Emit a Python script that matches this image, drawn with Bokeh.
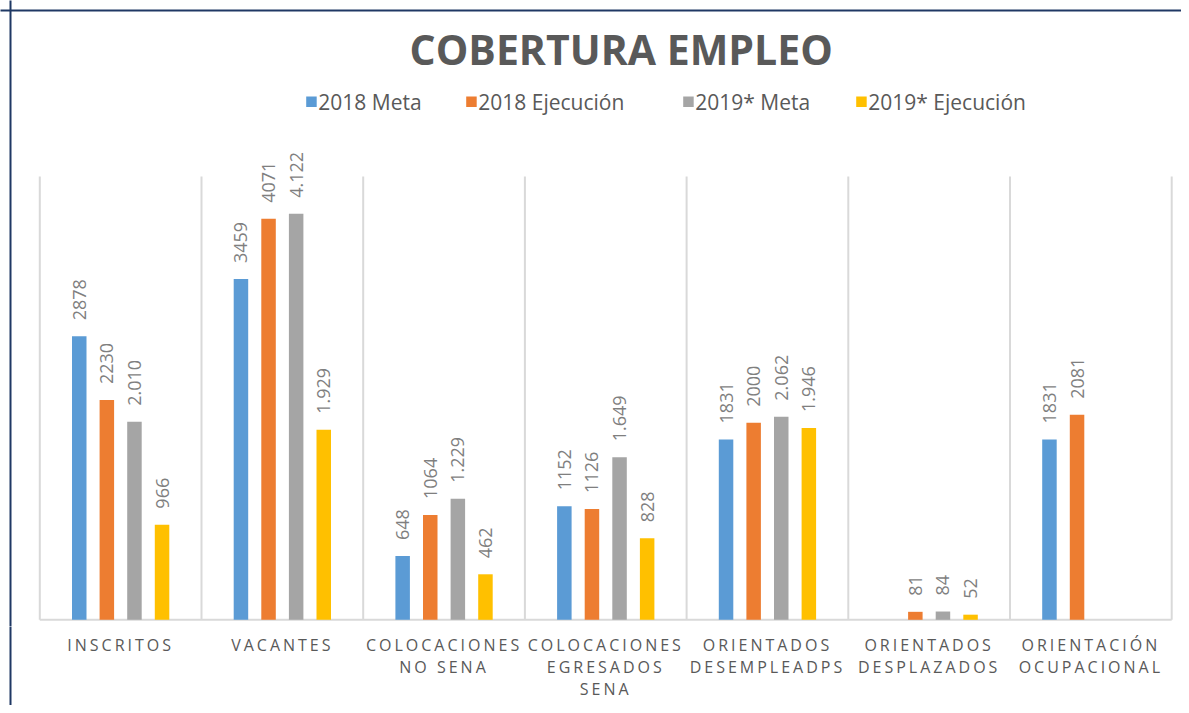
import math
from bokeh.plotting import figure
from bokeh.layouts import column
from bokeh.models import ColumnDataSource, Range1d, Label
from bokeh.core.properties import value
from bokeh.transform import dodge
from bokeh.embed import file_html
from bokeh.resources import INLINE

# ---------------- data ----------------
categories = ["INSCRITOS", "VACANTES", "COLOCACIONES\nNO SENA",
              "COLOCACIONES\nEGRESADOS\nSENA", "ORIENTADOS\nDESEMPLEADPS",
              "ORIENTADOS\nDESPLAZADOS", "ORIENTACIÓN\nOCUPACIONAL"]
series_names = ["2018 Meta", "2018 Ejecución", "2019* Meta", "2019* Ejecución"]
meta_2018 = [2878, 3459, 648, 1152, 1831, None, 1831]
ejec_2018 = [2230, 4071, 1064, 1126, 2000, 81, 2081]
meta_2019 = [2010, 4122, 1229, 1649, 2062, 84, None]
ejec_2019 = [966, 1929, 462, 828, 1946, 52, None]
dotted_thousands = [False, False, True, True]   # 2019 labels use "." separator
colors = ["#5b9bd5", "#ed7d31", "#a5a5a5", "#ffc000"]
y_max = 4500
title_text = "COBERTURA EMPLEO"

# ---------------- layout ----------------
W = 1181
H1, H2 = 626, 79        # chart panel, category-label panel
cat_left_px = 39.3      # left edge of first category (px)
cat_w = 161.7           # category width in px
base_px = 619.3         # baseline (value 0) from top
top_px = 176.0          # value y_max from top
k = (base_px - top_px) / y_max
LS = 3                  # letter spacing of category labels (px)
legend_sq_px = [305.7, 465.7, 682.7, 855.7]   # legend swatch left edges (px)
legend_y_px = 101.3                            # legend row centre (px)
SQ = 10.5                                      # swatch size (px)

x_start = -cat_left_px / cat_w - 0.5
x_end = x_start + W / cat_w
y_end = base_px / k
y_start = (base_px - H1) / k

FONT = value("Open Sans")
TXT = "#595959"
NAVY = "#1f3864"
border_x = x_start + 10 / cat_w
border_y = y_end - 10 / k

xr = Range1d(x_start, x_end)
p = figure(width=W, height=H1, output_backend="svg", toolbar_location=None,
           x_range=xr, y_range=Range1d(y_start, y_end),
           x_axis_location=None, y_axis_location=None, min_border=0, tools="")
p.grid.visible = False
p.outline_line_color = None
p.border_fill_color = "white"

# chart border (top and left)
p.segment(x0=[border_x, x_start - 1], y0=[y_start - 10, border_y],
          x1=[border_x, x_end + 1], y1=[y_end + 10, border_y],
          line_color=NAVY, line_width=2)

# category separators and baseline
ncat = len(categories)
sep_x = [i - 0.5 for i in range(ncat + 1)]
p.segment(x0=sep_x, y0=[0] * len(sep_x), x1=sep_x, y1=[y_max] * len(sep_x),
          line_color="#d9d9d9", line_width=2)
p.segment(x0=[-0.5], y0=[0], x1=[ncat - 0.5], y1=[0],
          line_color="#d9d9d9", line_width=2)

# bars + value labels
pitch = 27.6 / cat_w
bar_w = 14.5 / cat_w
offsets = [-1.5 * pitch, -0.5 * pitch, 0.5 * pitch, 1.5 * pitch]
all_series = [meta_2018, ejec_2018, meta_2019, ejec_2019]
for vals, col, dotted, off in zip(all_series, colors, dotted_thousands, offsets):
    xs, tops, labels = [], [], []
    for i, v in enumerate(vals):
        if v is None:
            continue
        xs.append(i)
        tops.append(v)
        labels.append(f"{v:,}".replace(",", ".") if dotted else str(v))
    src = ColumnDataSource(dict(x=xs, top=tops, label=labels))
    p.vbar(x=dodge("x", off), top="top", width=bar_w, bottom=0, source=src,
           fill_color=col, line_color=None)
    p.text(x=dodge("x", off), y="top", text="label", source=src,
           angle=math.pi / 2, text_align="left", text_baseline="middle",
           y_offset=-16, text_font=FONT, text_font_size="18px",
           text_color="#7f7f7f")

# legend: square swatches + labels
sw_x = [x_start + (px + SQ / 2) / cat_w for px in legend_sq_px]
sw_y = [y_end - legend_y_px / k] * len(legend_sq_px)
p.rect(x=sw_x, y=sw_y, width=SQ, height=SQ, width_units="screen",
       height_units="screen", fill_color=colors, line_color=None)
for name, px in zip(series_names, legend_sq_px):
    p.add_layout(Label(x=px + SQ + 1.6, y=H1 - legend_y_px, x_units="screen",
                       y_units="screen", text=name, text_align="left",
                       text_baseline="middle", text_font="Open Sans",
                       text_font_size="21px", text_color=TXT))

p.add_layout(Label(x=620.7, y=H1 - 48.7, x_units="screen", y_units="screen",
                   text=title_text, text_align="center", text_baseline="middle",
                   text_font="Open Sans", text_font_size="41px",
                   text_font_style="bold", text_color=TXT))

# ---------------- category label panel (letter-spaced) ----------------
p2 = figure(width=W, height=H2, output_backend="svg", toolbar_location=None,
            x_range=xr, y_range=Range1d(0, H2), x_axis_location=None,
            y_axis_location=None, min_border=0, tools="")
p2.grid.visible = False
p2.outline_line_color = None
p2.border_fill_color = "white"
p2.styles = {"letter-spacing": f"{LS}px"}
p2.segment(x0=[border_x], y0=[-20], x1=[border_x], y1=[H2 + 20],
           line_color=NAVY, line_width=2)

tx, ty, tt, tyo, txo = [], [], [], [], []
for i, cat in enumerate(categories):
    for j, line in enumerate(cat.split("\n")):
        tx.append(i)
        ty.append(H2)
        tt.append(line)
        tyo.append(7.3 + 22.3 * j)
        txo.append(-len(line) * LS / 2)
lsrc = ColumnDataSource(dict(x=tx, y=ty, t=tt, yo=tyo, xo=txo))
p2.text(x="x", y="y", text="t", source=lsrc, x_offset="xo", y_offset="yo",
        text_align="center", text_baseline="top", text_font=FONT,
        text_font_size="16px", text_color=TXT)

layout = column(p, p2, spacing=0)
open("out.html", "w").write(file_html(layout, INLINE))
